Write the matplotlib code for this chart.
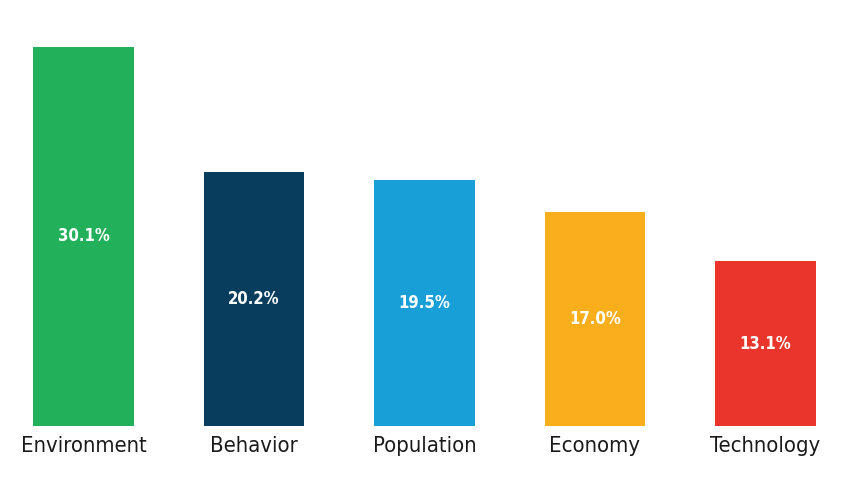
import matplotlib.pyplot as plt
from matplotlib import font_manager

categories = ['Environment', 'Behavior', 'Population', 'Economy', 'Technology']
values = [30.1, 20.2, 19.5, 17.0, 13.1]
colors = ['#22b05a', '#083d5e', '#189fd8', '#f9ae1c', '#e9352b']

names = {f.name for f in font_manager.fontManager.ttflist}
if 'Liberation Sans Narrow' in names:
    fam, stretch = 'Liberation Sans Narrow', 'normal'
else:
    fam, stretch = 'DejaVu Sans', 'condensed'

fig = plt.figure(figsize=(8.5, 4.93), dpi=100)
ax = fig.add_axes([0, 67 / 493, 1, 426 / 493])

x = range(len(categories))
bars = ax.bar(x, values, width=0.592, color=colors)
for b, v in zip(bars, values):
    ax.text(b.get_x() + b.get_width() / 2, v / 2, f'{v:.1f}%', ha='center', va='center',
            color='white', fontsize=12, fontweight='bold', family=fam, fontstretch=stretch)

ax.set_xlim(-0.49, 4.496)
ax.set_ylim(0, 33.83)
ax.set_xticks(list(x))
ax.set_xticklabels(categories, fontsize=15.8, family=fam, fontstretch=stretch, color='#1a1a1a')
ax.tick_params(axis='x', length=0, pad=7)
ax.set_yticks([])
for s in ax.spines.values():
    s.set_visible(False)

plt.savefig('out.png', dpi=100)
